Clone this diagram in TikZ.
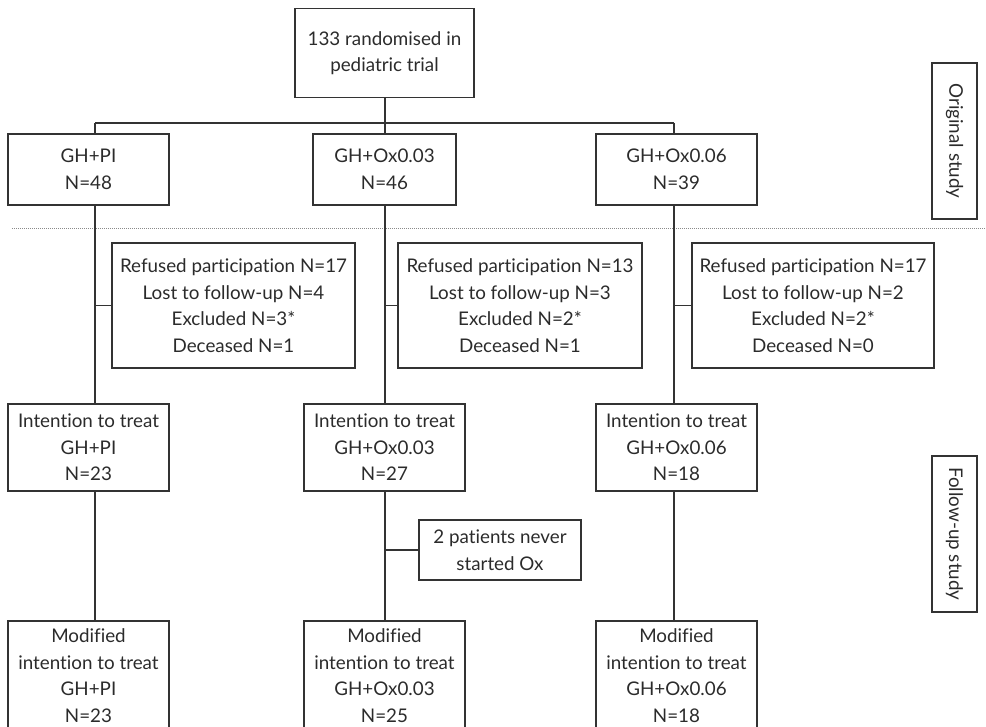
\documentclass[tikz,border=0pt]{standalone}
\usepackage{fontspec}
\setmainfont{Lato}[Ligatures=NoCommon]
\definecolor{linec}{HTML}{333333}
\definecolor{textc}{HTML}{2B2B2B}
\definecolor{dotc}{HTML}{8A8A8A}
\begin{document}
\begin{tikzpicture}[x=1pt,y=-1pt,
  box/.style={draw=linec, line width=1.1pt, text=textc, align=center, inner sep=0pt,
    font=\fontsize{18.8}{26.6}\selectfont},
  side/.style={box, rotate=-90, minimum width=156pt, minimum height=45pt},
  conn/.style={draw=linec, line width=1.1pt}]
\useasboundingbox (0,0) rectangle (986,727);
\clip (0,0) rectangle (986,727);

% top
\node[box, minimum width=179pt, minimum height=89pt] (top) at (384.5,53) {133 randomised in\\pediatric trial};
% groups
\node[box, minimum width=161pt, minimum height=71pt] (g1) at (88.5,169.5) {GH+PI\\N=48};
\node[box, minimum width=143pt, minimum height=71pt] (g2) at (384.5,169.5) {GH+Ox0.03\\N=46};
\node[box, minimum width=161pt, minimum height=71pt] (g3) at (676.5,169.5) {GH+Ox0.06\\N=39};
% side labels
\node[side] (orig) at (954.5,141) {Original study};
\node[side] (fu) at (954.5,534) {Follow-up study};
% dotted separator
\coordinate (dl) at (12,228);
\coordinate (dr) at (986,228);
\draw[dotc, line width=0.9pt, dash pattern=on 1pt off 1pt] (dl) -- (dr);
% refused
\node[box, minimum width=243pt, minimum height=125pt] (r1) at (233.5,305.5) {Refused participation N=17\\Lost to follow-up N=4\\Excluded N=3*\\Deceased N=1};
\node[box, minimum width=244pt, minimum height=125pt] (r2) at (520,305.5) {Refused participation N=13\\Lost to follow-up N=3\\Excluded N=2*\\Deceased N=1};
\node[box, minimum width=242pt, minimum height=125pt] (r3) at (813,305.5) {Refused participation N=17\\Lost to follow-up N=2\\Excluded N=2*\\Deceased N=0};
% intention
\node[box, minimum width=161pt, minimum height=87pt] (i1) at (88.5,447.5) {Intention to treat\\GH+PI\\N=23};
\node[box, minimum width=161pt, minimum height=87pt] (i2) at (384.5,447.5) {Intention to treat\\GH+Ox0.03\\N=27};
\node[box, minimum width=161pt, minimum height=87pt] (i3) at (676.5,447.5) {Intention to treat\\GH+Ox0.06\\N=18};
% never started
\node[box, minimum width=162pt, minimum height=60pt] (p2) at (500,550) {2 patients never\\started Ox};
% modified
\node[box, minimum width=161pt, minimum height=109pt] (m1) at (88.5,675.5) {Modified\\intention to treat\\GH+PI\\N=23};
\node[box, minimum width=161pt, minimum height=109pt] (m2) at (384.5,675.5) {Modified\\intention to treat\\GH+Ox0.03\\N=25};
\node[box, minimum width=161pt, minimum height=109pt] (m3) at (676.5,675.5) {Modified\\intention to treat\\GH+Ox0.06\\N=18};

% column x positions
\coordinate (c1) at (95,123);
\coordinate (c2) at (385,123);
\coordinate (c3) at (674,123);

% connectors
\draw[conn] (top.south -| c2) -- (c2);
\draw[conn] (c1) -- (c3);
\draw[conn] (c1) -- (g1.north -| c1);
\draw[conn] (c2) -- (g2.north -| c2);
\draw[conn] (c3) -- (g3.north -| c3);

\draw[conn] (g1.south -| c1) -- (i1.north -| c1);
\draw[conn] (g2.south -| c2) -- (i2.north -| c2);
\draw[conn] (g3.south -| c3) -- (i3.north -| c3);
\draw[conn] (r1.west -| c1) -- (r1.west);
\draw[conn] (r2.west -| c2) -- (r2.west);
\draw[conn] (r3.west -| c3) -- (r3.west);

\draw[conn] (i1.south -| c1) -- (m1.north -| c1);
\draw[conn] (i2.south -| c2) -- (m2.north -| c2);
\draw[conn] (i3.south -| c3) -- (m3.north -| c3);
\draw[conn] (p2.west -| c2) -- (p2.west);
\end{tikzpicture}
\end{document}
